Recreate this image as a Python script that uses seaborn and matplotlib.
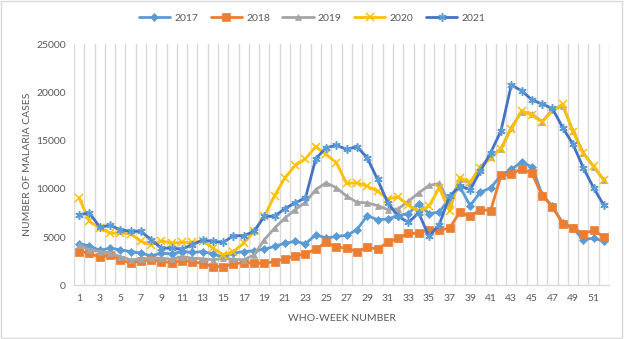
import matplotlib
matplotlib.use("Agg")
import matplotlib.pyplot as plt
import seaborn as sns
import numpy as np
import pandas as pd
from matplotlib.patches import Rectangle

weeks = list(range(1, 53))
tick_weeks = list(range(1, 53, 2))

cases_2017 = [4300, 4100, 3610, 3850, 3680, 3500, 3330, 3050, 3330, 3260,
              3500, 3400, 3500, 3250, 2910, 3330, 3500, 3570, 3750, 4030,
              4370, 4550, 4300, 5240, 4890, 5070, 5170, 5760, 7220, 6800,
              6870, 7220, 7430, 8470, 7430, 7570, 9060, 10200, 8260, 9640,
              10100, 11380, 12010, 12770, 12280, 9400, 8190, 6450, 5930, 4720,
              4890, 4550]
cases_2018 = [3500, 3330, 2910, 3160, 2640, 2290, 2530, 2640, 2460, 2360,
              2530, 2460, 2250, 1940, 1940, 2220, 2360, 2290, 2290, 2460,
              2700, 3050, 3260, 3750, 4440, 3960, 3850, 3500, 3920, 3780,
              4440, 4890, 5380, 5380, 5760, 5690, 5930, 7570, 7150, 7840,
              7740, 11380, 11490, 12080, 11590, 9300, 8120, 6380, 5930, 5340,
              5690, 5000]
cases_2019 = [4200, 3680, 3500, 3330, 2980, 2640, 2700, 2810, 2810, 2700,
              2980, 2810, 2750, 2640, 2780, 2700, 2640, 3160, 4720, 5930,
              6970, 7840, 8600, 9920, 10620, 10100, 9230, 8600, 8540, 8260,
              7840, 7910, 8710, 9570, 10340, 10550, 8540, 10970, 10620, 12280,
              13320, 14160, 16340, 17970, 17730, 16970, 18180, 18600, 16000, 13740,
              12280, 10900]
cases_2020 = [9050, 6630, 5930, 5400, 5400, 5350, 4550, 4200, 4600, 4370,
              4440, 4440, 4620, 3850, 3160, 3500, 4370, 5590, 7150, 9300,
              11140, 12420, 13120, 14370, 13570, 12700, 10550, 10620, 10270, 9750,
              8950, 9160, 8300, 7670, 8190, 10100, 7670, 11140, 10690, 12180,
              13220, 14160, 16170, 18080, 17630, 16930, 18080, 18770, 15890, 13670,
              12350, 10900]
cases_2021 = [7320, 7500, 6040, 6210, 5760, 5590, 5590, 4720, 3850, 3850,
              3750, 4200, 4680, 4550, 4440, 5140, 5140, 5590, 7150, 7150,
              7950, 8540, 9060, 13120, 14260, 14500, 14090, 14370, 13220, 10970,
              8540, 7150, 6520, 7500, 5070, 6280, 9230, 10270, 9920, 11830,
              13740, 16000, 20750, 20160, 19220, 18770, 18320, 16340, 14610, 12180,
              10100, 8290]

years = ["2017", "2018", "2019", "2020", "2021"]
series = [cases_2017, cases_2018, cases_2019, cases_2020, cases_2021]
colors = ["#5B9BD5", "#ED7D31", "#A5A5A5", "#FFC000", "#4472C4"]
markers = ["D", "s", "^", "x", (6, 2, 0)]
msizes = [4, 6, 5, 5.5, 6]

sns.set_theme(style="white")
plt.rcParams['font.family'] = ['Lato', 'DejaVu Sans']

fig = plt.figure(figsize=(6.24, 3.39), dpi=100)
ax = fig.add_axes([74/624, 1 - 285.3/339, (609 - 74)/624, (285.3 - 44)/339])

for yr, vals, c, m, ms in zip(years, series, colors, markers, msizes):
    df = pd.DataFrame({"week": weeks, "cases": vals})
    mec = "#5B9BD5" if yr == "2021" else c
    sns.lineplot(data=df, x="week", y="cases", ax=ax, color=c, linewidth=2,
                 marker=m, markersize=ms, markeredgecolor=mec,
                 markeredgewidth=1.1 if m in ("x", (6, 2, 0)) else 0.5,
                 label=yr)

ax.set_xlim(0.5, 52.5)
ax.set_ylim(0, 25000)
ax.set_yticks(range(0, 25001, 5000))
ax.set_xticks(tick_weeks)
ax.set_xticklabels([str(w) for w in tick_weeks])
ax.set_xticks(np.arange(0.5, 53, 1), minor=True)
ax.grid(False)
ax.grid(True, which="minor", axis="x", color="#D9D9D9", linewidth=1)
ax.set_axisbelow(True)
ax.tick_params(axis="both", which="both", length=0, labelsize=7.5,
               labelcolor="#595959", pad=6)
for s in ["top", "right", "left"]:
    ax.spines[s].set_visible(False)
ax.spines["bottom"].set_color("#D9D9D9")
ax.spines["bottom"].set_linewidth(1)

ax.set_xlabel("WHO-WEEK NUMBER", fontsize=7.5, color="#595959", labelpad=8)
ax.set_ylabel("NUMBER OF MALARIA CASES", fontsize=7.5, color="#595959", labelpad=3)

handles, labels = ax.get_legend_handles_labels()
ax.legend(handles, labels, loc="center", bbox_to_anchor=(0.5, 1 - 18/339),
          bbox_transform=fig.transFigure, ncol=5, frameon=False,
          fontsize=7.5, handlelength=3, columnspacing=1.2, handletextpad=0.4,
          labelcolor="#595959")

fig.patches.append(Rectangle((0.002, 0.003), 0.995, 0.993, transform=fig.transFigure,
                             fill=False, edgecolor="#D9D9D9", linewidth=1))

fig.savefig("out.png", dpi=100)
